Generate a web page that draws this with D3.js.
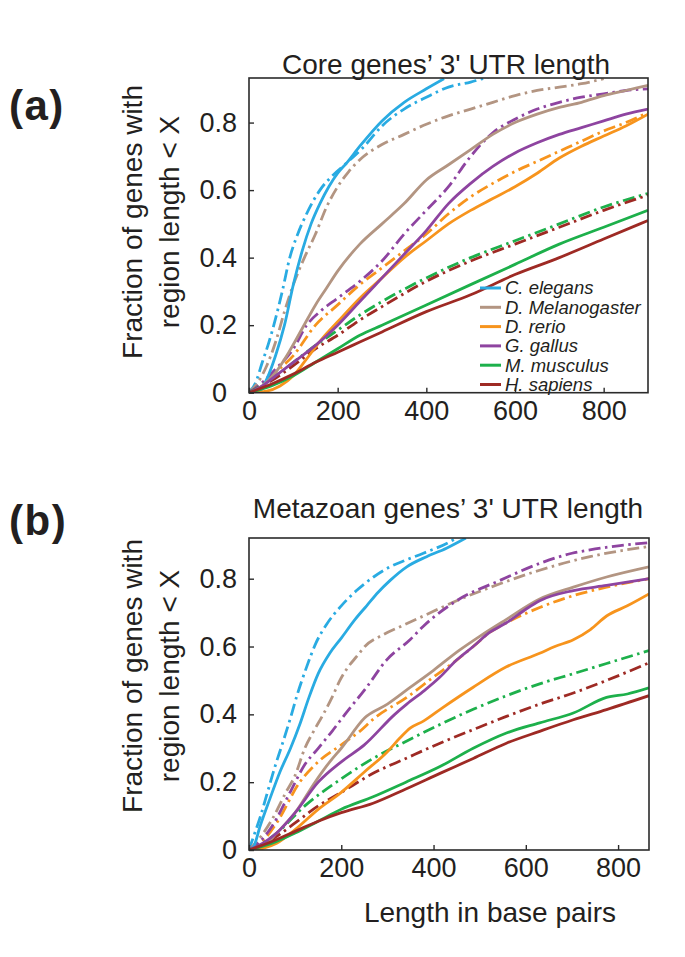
<!DOCTYPE html>
<html><head><meta charset="utf-8">
<script src="https://cdn.jsdelivr.net/npm/d3@7"></script>
<style>body{margin:0;background:#fff}svg{display:block}</style>
</head><body>
<script>
// ---------- categories / styles ----------
const species = ["C. elegans", "D. Melanogaster", "D. rerio", "G. gallus", "M. musculus", "H. sapiens"];
const speciesColors = ["#29abe2", "#b39582", "#f7941d", "#8e44a0", "#1db04b", "#9e2a24"];
const yTickValues = [0, 0.2, 0.4, 0.6, 0.8];
const xTickValues = [0, 200, 400, 600, 800];
const yTickLabels = ["0", "0.2", "0.4", "0.6", "0.8"];
const xTickLabels = ["0", "200", "400", "600", "800"];

// ---------- panel (a): core genes' 3' UTR length  [length bp, fraction] ----------
const aElegansSolid = [[0,0],[20,0],[40,0.04],[60,0.11],[80,0.2],[100,0.32],[120,0.42],[140,0.5],[160,0.56],[180,0.61],[200,0.65],[220,0.68],[250,0.73],[300,0.805],[350,0.86],[400,0.9],[440,0.93]];
const aElegansDash = [[0,0],[15,0.03],[30,0.09],[45,0.15],[60,0.22],[75,0.3],[92,0.4],[110,0.47],[130,0.53],[160,0.6],[190,0.645],[220,0.68],[260,0.73],[300,0.79],[350,0.84],[400,0.875],[450,0.905],[500,0.92],[540,0.935]];
const aMelanoSolid = [[0,0],[30,0.02],[60,0.06],[90,0.12],[120,0.19],[150,0.26],[175,0.31],[200,0.36],[250,0.44],[300,0.5],[350,0.56],[400,0.63],[450,0.675],[500,0.72],[550,0.765],[600,0.8],[650,0.825],[700,0.845],[750,0.86],[800,0.88],[850,0.895],[900,0.91]];
const aMelanoDash = [[0,0],[20,0.03],[40,0.08],[60,0.15],[80,0.24],[100,0.32],[125,0.4],[150,0.47],[175,0.55],[200,0.61],[225,0.655],[250,0.69],[300,0.735],[350,0.765],[400,0.795],[450,0.82],[500,0.84],[550,0.86],[600,0.88],[650,0.895],[700,0.905],[750,0.915],[800,0.93]];
const aRerioSolid = [[0,0],[40,0.005],[70,0.02],[100,0.05],[130,0.1],[165,0.16],[200,0.21],[250,0.28],[300,0.34],[350,0.4],[400,0.45],[450,0.5],[500,0.54],[550,0.575],[600,0.61],[650,0.65],[700,0.695],[750,0.73],[800,0.76],[850,0.79],[900,0.825]];
const aRerioDash = [[0,0],[30,0.02],[60,0.06],[100,0.11],[150,0.2],[200,0.26],[250,0.32],[300,0.37],[350,0.42],[400,0.47],[450,0.53],[500,0.58],[550,0.62],[600,0.655],[650,0.685],[700,0.715],[750,0.745],[800,0.775],[850,0.8],[900,0.83]];
const aGallusSolid = [[0,0],[30,0.02],[60,0.05],[100,0.09],[150,0.14],[200,0.2],[250,0.27],[300,0.34],[350,0.41],[400,0.48],[450,0.56],[500,0.62],[550,0.67],[600,0.71],[650,0.74],[700,0.765],[750,0.785],[800,0.805],[850,0.825],[900,0.84]];
const aGallusDash = [[0,0],[30,0.03],[60,0.07],[100,0.13],[130,0.2],[160,0.24],[200,0.28],[250,0.33],[300,0.39],[350,0.47],[400,0.54],[450,0.61],[500,0.7],[550,0.77],[600,0.81],[650,0.84],[700,0.86],[750,0.875],[800,0.885],[850,0.895],[900,0.9]];
const aMusculusSolid = [[0,0],[50,0.02],[100,0.05],[150,0.09],[200,0.13],[250,0.17],[300,0.2],[400,0.26],[500,0.32],[600,0.38],[700,0.44],[800,0.49],[900,0.54]];
const aMusculusDash = [[0,0],[50,0.04],[100,0.09],[150,0.14],[200,0.185],[250,0.23],[300,0.27],[400,0.34],[500,0.4],[600,0.45],[700,0.5],[800,0.55],[900,0.59]];
const aSapiensSolid = [[0,0],[50,0.025],[100,0.055],[150,0.09],[200,0.12],[250,0.15],[300,0.18],[400,0.24],[500,0.29],[600,0.35],[700,0.4],[800,0.455],[900,0.51]];
const aSapiensDash = [[0,0],[50,0.035],[100,0.08],[150,0.13],[200,0.17],[250,0.215],[300,0.255],[400,0.33],[500,0.39],[600,0.44],[700,0.49],[800,0.54],[900,0.585]];

// ---------- panel (b): metazoan genes' 3' UTR length ----------
const bElegansSolid = [[0,0],[10,0.01],[24,0.07],[45,0.15],[67,0.23],[90,0.3],[110,0.37],[130,0.45],[150,0.52],[175,0.58],[200,0.625],[230,0.68],[255,0.72],[280,0.76],[306,0.795],[342,0.835],[385,0.865],[428,0.89],[470,0.92]];
const bElegansDash = [[0,0],[10,0.04],[25,0.1],[40,0.17],[55,0.24],[74,0.32],[90,0.39],[105,0.46],[125,0.54],[145,0.61],[168,0.665],[200,0.72],[233,0.765],[270,0.805],[306,0.835],[340,0.855],[378,0.875],[443,0.915],[460,0.93]];
const bMelanoSolid = [[0,0],[30,0.01],[60,0.05],[100,0.11],[143,0.2],[175,0.26],[200,0.3],[251,0.39],[300,0.43],[350,0.48],[400,0.53],[457,0.59],[500,0.63],[558,0.68],[630,0.74],[703,0.775],[775,0.805],[867,0.835]];
const bMelanoDash = [[0,0],[20,0.03],[50,0.09],[80,0.17],[100,0.22],[121,0.3],[140,0.35],[161,0.4],[180,0.45],[197,0.5],[215,0.54],[233,0.57],[251,0.6],[291,0.635],[330,0.66],[378,0.69],[450,0.735],[544,0.785],[630,0.825],[739,0.865],[867,0.895]];
const bRerioSolid = [[0,0],[30,0.005],[60,0.02],[100,0.06],[150,0.12],[200,0.17],[250,0.23],[300,0.29],[327,0.33],[350,0.36],[378,0.38],[420,0.42],[486,0.48],[558,0.54],[630,0.58],[663,0.6],[703,0.62],[740,0.65],[775,0.69],[820,0.72],[867,0.755]];
const bRerioDash = [[0,0],[25,0.02],[60,0.08],[110,0.2],[150,0.26],[200,0.31],[240,0.35],[273,0.39],[342,0.45],[400,0.51],[450,0.56],[486,0.6],[520,0.64],[558,0.67],[630,0.715],[703,0.75],[775,0.775],[867,0.8]];
const bGallusSolid = [[0,0],[30,0.02],[60,0.05],[100,0.11],[150,0.2],[200,0.26],[250,0.31],[316,0.4],[342,0.43],[380,0.47],[414,0.51],[450,0.56],[486,0.6],[520,0.64],[558,0.67],[600,0.71],[630,0.735],[703,0.765],[775,0.78],[867,0.8]];
const bGallusDash = [[0,0],[20,0.02],[50,0.07],[89,0.17],[120,0.25],[150,0.3],[180,0.35],[208,0.4],[255,0.48],[298,0.56],[349,0.62],[378,0.66],[450,0.735],[544,0.795],[630,0.845],[700,0.875],[739,0.885],[800,0.897],[867,0.906]];
const bMusculusSolid = [[0,0],[50,0.02],[100,0.05],[150,0.085],[200,0.12],[269,0.157],[340,0.2],[414,0.246],[486,0.3],[558,0.345],[630,0.375],[703,0.404],[775,0.45],[820,0.46],[867,0.478]];
const bMusculusDash = [[0,0],[30,0.02],[60,0.05],[121,0.13],[200,0.21],[269,0.27],[340,0.32],[414,0.37],[486,0.415],[558,0.455],[630,0.49],[703,0.52],[775,0.55],[867,0.588]];
const bSapiensSolid = [[0,0],[50,0.025],[100,0.055],[150,0.085],[200,0.11],[269,0.138],[340,0.18],[414,0.226],[486,0.27],[558,0.315],[630,0.35],[703,0.384],[775,0.414],[867,0.455]];
const bSapiensDash = [[0,0],[30,0.015],[60,0.04],[100,0.08],[150,0.13],[200,0.17],[269,0.226],[340,0.27],[414,0.315],[486,0.355],[558,0.394],[630,0.43],[703,0.463],[775,0.5],[867,0.552]];

const aSolid = [aElegansSolid, aMelanoSolid, aRerioSolid, aGallusSolid, aMusculusSolid, aSapiensSolid];
const aDash  = [aElegansDash, aMelanoDash, aRerioDash, aGallusDash, aMusculusDash, aSapiensDash];
const bSolid = [bElegansSolid, bMelanoSolid, bRerioSolid, bGallusSolid, bMusculusSolid, bSapiensSolid];
const bDash  = [bElegansDash, bMelanoDash, bRerioDash, bGallusDash, bMusculusDash, bSapiensDash];

// ---------- drawing ----------
const W = 685, H = 957;
const FONT = "'Liberation Sans', Arial, Helvetica, sans-serif";
const INK = "#231f20";
const svg = d3.select("body").append("svg").attr("width", W).attr("height", H)
  .style("font-family", FONT);

function drawPanel(cfg) {
  const x = d3.scaleLinear().domain([0, cfg.xMax]).range([cfg.left, cfg.right]);
  const y = d3.scaleLinear().domain([0, cfg.yMax]).range([cfg.bottom, cfg.top]);
  const g = svg.append("g");
  const clipId = "clip-" + cfg.id;
  svg.append("clipPath").attr("id", clipId).append("rect")
    .attr("x", cfg.left).attr("y", cfg.top)
    .attr("width", cfg.right - cfg.left).attr("height", cfg.bottom - cfg.top);

  const line = d3.line().x(d => x(d[0])).y(d => y(d[1])).curve(d3.curveMonotoneX);
  const lg = g.append("g").attr("clip-path", `url(#${clipId})`);
  cfg.dash.forEach((s, i) => {
    lg.append("path").datum(s).attr("d", line).attr("fill", "none")
      .attr("stroke", speciesColors[i]).attr("stroke-width", 2.8)
      .attr("stroke-dasharray", "12,4.5,2.5,4.5");
  });
  cfg.solid.forEach((s, i) => {
    lg.append("path").datum(s).attr("d", line).attr("fill", "none")
      .attr("stroke", speciesColors[i]).attr("stroke-width", 2.8)
      .attr("stroke-linejoin", "round");
  });

  // frame
  g.append("rect").attr("x", cfg.left).attr("y", cfg.top)
    .attr("width", cfg.right - cfg.left).attr("height", cfg.bottom - cfg.top)
    .attr("fill", "none").attr("stroke", "#2b2b2b").attr("stroke-width", 1.6);

  // axes with inward ticks
  const xAxis = d3.axisBottom(x).tickValues(xTickValues)
    .tickFormat((d, i) => xTickLabels[i]).tickSizeInner(-5).tickSizeOuter(0);
  const xa = g.append("g").attr("transform", `translate(0,${cfg.bottom})`).call(xAxis);
  xa.select(".domain").remove();
  xa.selectAll("line").attr("stroke", "#2b2b2b").attr("stroke-width", 1.4);
  xa.selectAll("text").attr("font-size", 27).attr("font-family", FONT).attr("fill", INK)
    .attr("y", 8).attr("dy", "0.71em");

  const yAxis = d3.axisLeft(y).tickValues(yTickValues)
    .tickFormat((d, i) => yTickLabels[i]).tickSizeInner(-5).tickSizeOuter(0);
  const ya = g.append("g").attr("transform", `translate(${cfg.left},0)`).call(yAxis);
  ya.select(".domain").remove();
  ya.selectAll("line").attr("stroke", "#2b2b2b").attr("stroke-width", 1.4);
  ya.selectAll("text").attr("font-size", 27).attr("font-family", FONT).attr("fill", INK)
    .attr("x", (d, i) => i === 0 ? -12 - cfg.zeroShift : -12);

  // title
  g.append("text").attr("x", cfg.titleX).attr("y", cfg.titleY).attr("text-anchor", "middle")
    .attr("font-size", 28).attr("fill", INK).text(cfg.title);

  // y-axis label (two lines)
  g.append("text").attr("transform", `translate(142,${cfg.yLabelMid}) rotate(-90)`)
    .attr("text-anchor", "middle").attr("font-size", 28).attr("fill", INK)
    .text("Fraction of genes with");
  g.append("text").attr("transform", `translate(179,${cfg.yLabelMid}) rotate(-90)`)
    .attr("text-anchor", "middle").attr("font-size", 28).attr("fill", INK)
    .text("region length < X");

  // panel letter
  g.append("text").attr("x", 9).attr("y", cfg.letterY).attr("font-size", 42)
    .attr("font-weight", "bold").attr("letter-spacing", 1.5).attr("fill", INK).text(cfg.letter);
  return { x, y, g };
}

drawPanel({
  id: "a", left: 249, right: 648, top: 78, bottom: 392.7, xMax: 900, yMax: 0.932,
  solid: aSolid, dash: aDash, title: "Core genes\u2019 3' UTR length", titleX: 446, titleY: 74,
  letter: "(a)", letterY: 120, yLabelMid: 222, zeroShift: 10
});
drawPanel({
  id: "b", left: 249, right: 649, top: 538, bottom: 850, xMax: 867, yMax: 0.92,
  solid: bSolid, dash: bDash, title: "Metazoan genes\u2019 3' UTR length", titleX: 448, titleY: 518,
  letter: "(b)", letterY: 535, yLabelMid: 676, zeroShift: 0
});

// x-axis title (bottom panel)
svg.append("text").attr("x", 490).attr("y", 922).attr("text-anchor", "middle")
  .attr("font-size", 28).attr("fill", INK).text("Length in base pairs");

// legend (panel a)
const legend = svg.append("g").attr("transform", "translate(480,288)");
species.forEach((s, i) => {
  const row = legend.append("g").attr("transform", `translate(0,${i * 19.3})`);
  row.append("line").attr("x1", 0).attr("x2", 21).attr("y1", 0).attr("y2", 0)
    .attr("stroke", speciesColors[i]).attr("stroke-width", 3);
  row.append("text").attr("x", 25).attr("y", 0).attr("dy", "0.35em")
    .attr("font-size", 18.5).attr("font-style", "italic").attr("fill", INK).text(s);
});
</script>
</body></html>
